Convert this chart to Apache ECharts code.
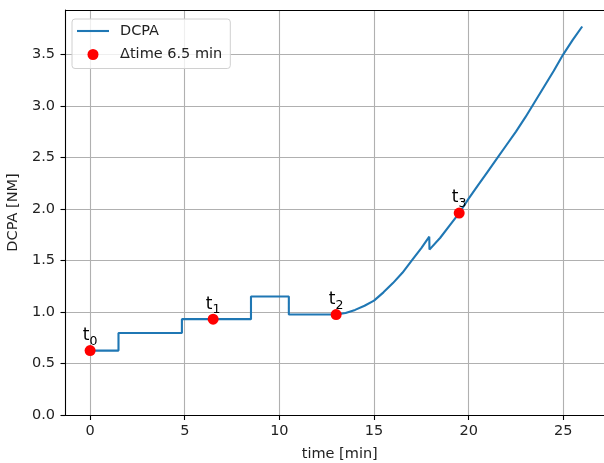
<!DOCTYPE html>
<html>
<head>
<meta charset="utf-8">
<script src="https://cdn.jsdelivr.net/npm/echarts@6/dist/echarts.min.js"></script>
<style>
html,body{margin:0;padding:0;background:#fff;overflow:hidden;}
#c{width:604px;height:463px;}
</style>
</head>
<body>
<div id="c"></div>
<script>
// DCPA curve (time in minutes, DCPA in NM)
const dcpaTime = [0, 1.5, 1.5, 4.85, 4.85, 8.5, 8.5, 10.5, 10.5, 13.0, 13.5, 14.0, 14.5, 15.0, 15.5, 16.0, 16.5, 17.0, 17.5, 17.92, 17.93, 18.5, 19.0, 19.5, 20.0, 20.5, 21.0, 21.5, 22.0, 22.5, 23.0, 23.5, 24.0, 24.5, 25.0, 25.5, 26.0];
const dcpaValue = [0.625, 0.625, 0.795, 0.795, 0.93, 0.93, 1.15, 1.15, 0.975, 0.975, 0.99, 1.02, 1.06, 1.11, 1.19, 1.28, 1.38, 1.50, 1.62, 1.73, 1.605, 1.72, 1.84, 1.96, 2.10, 2.23, 2.36, 2.49, 2.62, 2.75, 2.89, 3.04, 3.19, 3.34, 3.50, 3.64, 3.77];
// sample points every 6.5 min
const sampleTime = [0, 6.5, 13, 19.5];
const sampleValue = [0.625, 0.93, 0.975, 1.96];
const sampleIndex = ['0', '1', '2', '3'];
// ticks
const xTicks = [0, 5, 10, 15, 20, 25];
const yTicks = [0, 0.5, 1.0, 1.5, 2.0, 2.5, 3.0, 3.5];

const lineName = 'DCPA';
const pointName = 'Δtime 6.5 min';

const FONT = 'DejaVu Sans';
const FS = 14.5;
const X_MIN = -1.3, X_MAX = 27.68, Y_MIN = 0, Y_MAX = 3.93;
const chart = echarts.init(document.getElementById('c'), null, {renderer: 'canvas'});

const lineData = dcpaTime.map((t, i) => [t, dcpaValue[i]]);
const pointData = sampleTime.map((t, i) => ({value: [t, sampleValue[i]], idx: sampleIndex[i]}));

chart.setOption({
  animation: false,
  backgroundColor: '#fff',
  textStyle: {fontFamily: FONT},
  grid: {
    left: 65.5, top: 10, right: -10, bottom: 48,
    containLabel: false, outerBoundsMode: 'none',
    show: false
  },
  legend: {
    left: 72, top: 19,
    orient: 'vertical',
    data: [
      {name: lineName, icon: 'path://M0,0h32v2.1h-32z'},
      {name: pointName, icon: 'circle'}
    ],
    itemWidth: 32, itemHeight: 11, itemGap: 7.5,
    padding: [4, 8, 6, 5],
    borderColor: '#d0d0d0', borderWidth: 1, borderRadius: 3,
    backgroundColor: 'rgba(255,255,255,0.8)',
    textStyle: {fontFamily: FONT, fontSize: FS, color: '#222', lineHeight: 16, padding: [0, 0, 0, 6]}
  },
  xAxis: [{
    type: 'value', min: X_MIN, max: X_MAX, position: 'bottom',
    name: 'time [min]', nameLocation: 'middle', nameGap: 32,
    nameTextStyle: {fontFamily: FONT, fontSize: FS, color: '#222'},
    axisLine: {show: true, onZero: false, lineStyle: {color: '#000', width: 1.1}},
    axisTick: {show: true, length: 5, lineStyle: {color: '#000', width: 1.1}, customValues: xTicks},
    axisLabel: {fontFamily: FONT, fontSize: FS, color: '#222', margin: 9, customValues: xTicks,
      formatter: v => String(v)},
    splitLine: {show: true, lineStyle: {color: '#b0b0b0', width: 1.1}}
  }, {
    type: 'value', min: X_MIN, max: X_MAX, position: 'top',
    axisLine: {show: true, onZero: false, lineStyle: {color: '#000', width: 1.1}},
    axisTick: {show: false}, axisLabel: {show: false}, splitLine: {show: false}
  }],
  yAxis: {
    type: 'value', min: Y_MIN, max: Y_MAX,
    name: 'DCPA [NM]', nameLocation: 'middle', nameGap: 40, nameRotate: 90,
    nameTextStyle: {fontFamily: FONT, fontSize: FS, color: '#222'},
    axisLine: {show: true, onZero: false, lineStyle: {color: '#000', width: 1.1}},
    axisTick: {show: true, length: 5, lineStyle: {color: '#000', width: 1.1}, customValues: yTicks},
    axisLabel: {fontFamily: FONT, fontSize: FS, color: '#222', margin: 10.5, customValues: yTicks,
      formatter: v => v.toFixed(1)},
    splitLine: {show: true, lineStyle: {color: '#b0b0b0', width: 1.1}}
  },
  series: [
    {
      name: lineName, type: 'line', data: lineData, xAxisIndex: 0,
      symbol: 'none', showSymbol: false,
      lineStyle: {color: '#1f77b4', width: 2.1},
      itemStyle: {color: '#1f77b4'},
      z: 2
    },
    {
      name: pointName, type: 'scatter', data: pointData, xAxisIndex: 0,
      symbol: 'circle', symbolSize: 11,
      itemStyle: {color: '#ff0000', opacity: 1},
      z: 3,
      label: {
        show: true, position: 'top', distance: 1,
        formatter: p => '{a|t}{b|' + p.data.idx + '}',
        rich: {
          a: {fontFamily: FONT, fontSize: 17, color: '#000', lineHeight: 20, verticalAlign: 'bottom'},
          b: {fontFamily: FONT, fontSize: 12.5, color: '#000', lineHeight: 14, verticalAlign: 'bottom', padding: [0, 0, -4, 0]}
        }
      }
    }
  ]
});
</script>
</body>
</html>
